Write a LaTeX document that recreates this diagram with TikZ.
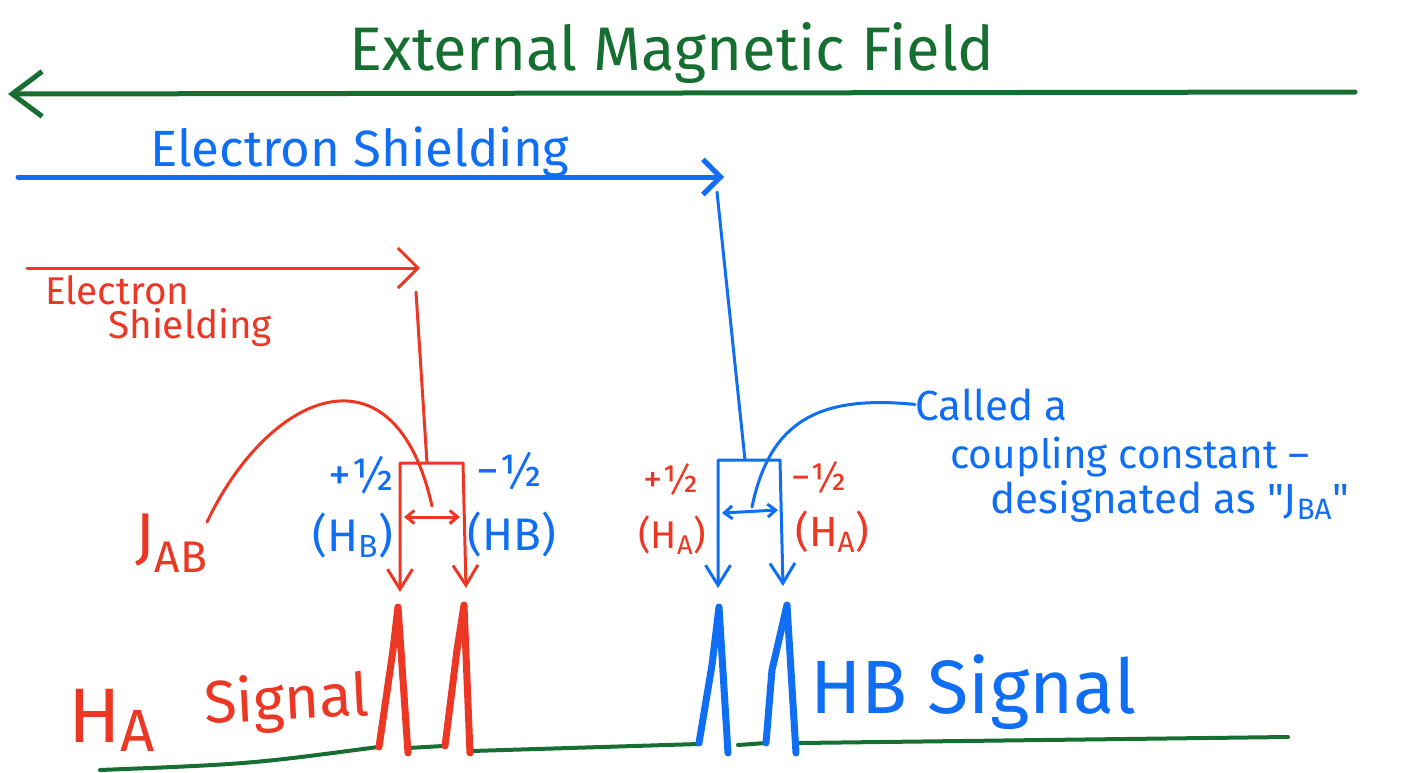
\documentclass[tikz,border=0pt]{standalone}
\usepackage{fontspec}
\setmainfont{Fira Sans}
\usetikzlibrary{arrows.meta}
\definecolor{FieldGreen}{RGB}{22,110,48}
\definecolor{ShieldBlue}{RGB}{16,110,245}
\definecolor{ShieldRed}{RGB}{235,55,35}
\newcommand{\pts}[1]{\fontsize{#1}{#1}\selectfont}

\begin{document}
\begin{tikzpicture}[x=0.2mm,y=-0.2mm,
        lbl/.style={inner sep=0pt,anchor=base west},
        fld/.style={-{Straight Barb[length=6mm,width=9mm]},line width=1mm,draw=FieldGreen,line cap=round},
        bshd/.style={-{Straight Barb[length=3.5mm,width=7mm]},line width=1mm,draw=ShieldBlue,line cap=round},
        rshd/.style={-{Straight Barb[length=4mm,width=8mm]},line width=0.6mm,draw=ShieldRed,line cap=round},
        pen/.style={line width=0.6mm,line cap=round,line join=round},
        drop/.style={{Straight Barb[length=4mm,width=5mm]}-{Straight Barb[length=4mm,width=5mm]}},
        jarr/.style={{Straight Barb[length=1.6mm,width=2.6mm]}-{Straight Barb[length=1.6mm,width=2.6mm]}},
        peak/.style={line width=1.4mm,line cap=round,line join=round},
        base/.style={line width=0.8mm,draw=FieldGreen,line cap=round}
      ]
        \useasboundingbox (0,0) rectangle (1417,773);

        \node[lbl,anchor=base,font=\pts{35},text=FieldGreen] (title) at (672,70) {External Magnetic Field};
        \coordinate (f0) at (1355,92);
        \coordinate (f1) at (8,94);
        \draw[fld] (f0) -- (f1);

        \node[lbl,font=\pts{29},text=ShieldBlue] (bstxt) at (150,166) {Electron Shielding};
        \coordinate (b0) at (18,177);
        \coordinate (b1) at (724,177);
        \draw[bshd] (b0) -- (b1);

        \node[lbl,font=\pts{22},text=ShieldRed] (rstxt1) at (45,304) {Electron};
        \node[lbl,font=\pts{22},text=ShieldRed] (rstxt2) at (108,338) {Shielding};
        \coordinate (r0) at (27,268);
        \coordinate (r1) at (420,268);
        \draw[rshd] (r0) -- (r1);

        % red doublet (HA signal)
        \coordinate (rs) at (416,292);
        \coordinate (rt) at (427,463);
        \coordinate (rtl) at (400,463);
        \coordinate (rtr) at (463,463);
        \coordinate (rbl) at (400,592);
        \coordinate (rbr) at (466,588);
        \coordinate (rj0) at (404,517);
        \coordinate (rj1) at (460,517);
        \coordinate (rj) at (432,506);
        \coordinate (jc) at (207,522);
        \draw[pen,ShieldRed] (rs) -- (rt);
        \draw[pen,ShieldRed,drop] (rbl) -- (rtl) -- (rtr) -- (rbr);
        \draw[pen,ShieldRed,jarr] (rj0) -- (rj1);
        \node[lbl,font=\pts{36},text=ShieldRed] (jab) at (135,557) {J\textsubscript{AB}};
        \draw[pen,ShieldRed] (jc) .. controls (270,390) and (395,340) .. (rj);
        \node[lbl,font=\pts{26},text=ShieldBlue] (bph) at (328,490) {+½};
        \node[lbl,font=\pts{26},text=ShieldBlue] (bhl) at (312,551) {(H\textsubscript{B})};
        \node[lbl,font=\pts{26},text=ShieldBlue] (bmh) at (476,486) {−½};
        \node[lbl,font=\pts{26},text=ShieldBlue] (bhr) at (467,550) {(HB)};

        % blue doublet (HB signal)
        \coordinate (bs) at (717,192);
        \coordinate (bt) at (745,460);
        \coordinate (btl) at (718,460);
        \coordinate (btr) at (780,460);
        \coordinate (bbl) at (718,588);
        \coordinate (bbr) at (783,586);
        \coordinate (bj0) at (722,513);
        \coordinate (bj1) at (778,510);
        \coordinate (bj) at (752,507);
        \draw[pen,ShieldBlue] (bs) -- (bt);
        \draw[pen,ShieldBlue,drop] (bbl) -- (btl) -- (btr) -- (bbr);
        \draw[pen,ShieldBlue,jarr] (bj0) -- (bj1);
        \node[lbl,font=\pts{22},text=ShieldRed] (rph) at (643,492) {+½};
        \node[lbl,font=\pts{22},text=ShieldRed] (rhl) at (638,548) {(H\textsubscript{A})};
        \node[lbl,font=\pts{22},text=ShieldRed] (rmh) at (791,490) {−½};
        \node[lbl,font=\pts{24},text=ShieldRed] (rhr) at (795,546) {(H\textsubscript{A})};

        \node[lbl,font=\pts{24},text=ShieldBlue] (call1) at (915,420) {Called a};
        \node[lbl,font=\pts{23},text=ShieldBlue] (call2) at (950,468) {coupling constant –};
        \node[lbl,font=\pts{24},text=ShieldBlue] (call3) at (990,513) {designated as \textquotedbl J\textsubscript{BA}\textquotedbl};
        \draw[pen,ShieldBlue] (bj) .. controls (770,420) and (820,395) .. (call1.west);

        % spectrum
        \draw[base] (100,770) .. controls (250,764) .. (378,747);
        \draw[base] (408,748) -- (443,746);
        \draw[base] (472,751) -- (699,744);
        \draw[base] (738,745) -- (766,743);
        \draw[base] (800,743) -- (1288,737);
        \draw[peak,ShieldRed] (379,747) -- (393,650) -- (398,607) -- (408,753);
        \draw[peak,ShieldRed] (445,746) -- (457,650) -- (464,605) -- (470,753);
        \draw[peak,ShieldBlue] (699,743) -- (712,665) -- (719,607) -- (728,753);
        \draw[peak,ShieldBlue] (766,743) -- (772,670) -- (787,605) -- (796,753);

        \node[lbl,font=\pts{44},text=ShieldRed] (ha) at (68,742) {H\raisebox{-0.12em}{\pts{34}A}};
        \node[lbl,font=\pts{34},text=ShieldRed,rotate=3] (hasig) at (205,724) {Signal};
        \node[lbl,font=\pts{43},text=ShieldBlue] (hb) at (810,713) {HB Signal};
      \end{tikzpicture}
\end{document}
